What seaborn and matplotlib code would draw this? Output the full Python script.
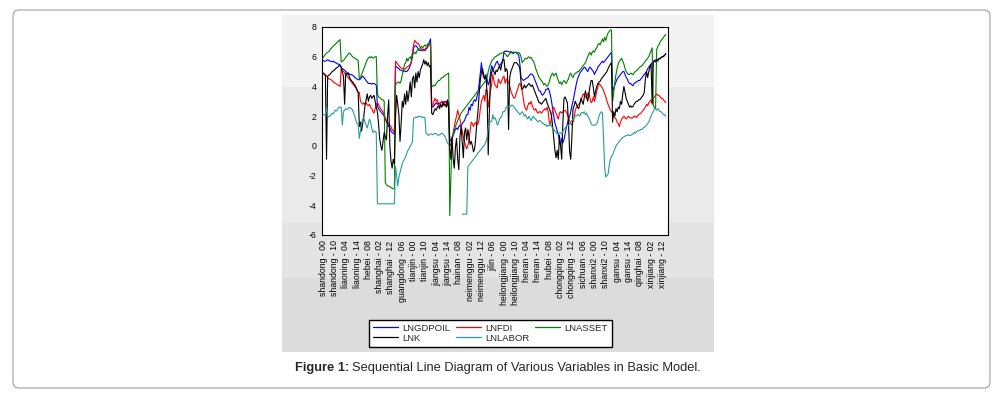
import numpy as np
import pandas as pd
import matplotlib
matplotlib.use('Agg')
import matplotlib.pyplot as plt
import seaborn as sns
from matplotlib.patches import Rectangle, FancyBboxPatch
from matplotlib.lines import Line2D
from matplotlib.transforms import IdentityTransform

nan = np.nan

# paneles: 19 provincias x 16 años (2000-2015)
provinces = ['shandong', 'liaoning', 'hebei', 'shanghai', 'guangdong', 'tianjin', 'jiangsu',
             'hainan', 'neimenggu', 'jilin', 'heilongjiang', 'henan', 'hubei', 'chongqing',
             'sichuan', 'shanxi2', 'gansu', 'qinghai', 'xinjiang']
years = ['00', '01', '02', '03', '04', '05', '06', '07', '08', '09', '10', '11', '12', '13', '14', '15']

lngdpoil = [
    5.75, 5.7, 5.7, 5.75, 5.8, 5.75, 5.7, 5.7, 5.65, 5.7, 5.65, 5.6, 5.55, 5.5, 5.5, 5.45,
    5.3, 5.2, 5.15, 5.1, 5.0, 4.95, 4.9, 4.85, 4.8, 4.8, 4.75, 4.7, 4.6, 4.55, 4.5, 4.45,
    4.45, 4.5, 4.6, 4.7, 4.6, 4.5, 4.4, 4.3, 4.2, 4.2, 4.2, 4.15, 4.2, 4.2, 4.15, 4.1,
    2.7, 2.5, 2.4, 2.3, 2.2, 2.1, 2.0, 1.8, 1.6, 1.5, 1.3, 1.2, 1.0, 0.9, 0.85, 0.8,
    5.4, 5.3, 5.25, 5.2, 5.1, 5.1, 5.05, 5.0, 5.05, 5.0, 5.0, 5.1, 5.2, 5.4, 5.6, 6.0,
    6.6, 6.7, 6.75, 6.65, 6.55, 6.45, 6.4, 6.45, 6.5, 6.5, 6.4, 6.5, 6.6, 6.8, 7.0, 7.2,
    2.7, 2.6, 2.7, 2.8, 2.9, 2.8, 2.9, 2.85, 2.9, 3.0, 2.9, 3.0, 2.95, 3.0, 2.9, 2.95,
    0.3, 0.4, 0.5, 0.7, 0.9, 1.1, 1.2, 1.1, 1.3, 1.4, 1.3, 1.5, 1.6, 1.7, 1.9, 2.1,
    2.1, 2.6, 2.4, 2.8, 2.7, 3.0, 3.1, 3.0, 3.3, 3.6, 4.2, 4.9, 5.6, 4.9, 4.6, 4.5,
    4.6, 4.5, 4.1, 4.3, 4.9, 5.4, 5.2, 5.25, 5.4, 5.6, 5.7, 5.5, 5.4, 5.5, 5.6, 5.8,
    6.35, 6.35, 6.4, 6.35, 6.35, 6.3, 6.35, 6.3, 6.3, 6.3, 6.3, 6.25, 6.2, 6.1, 5.5, 4.6,
    4.5, 4.4, 4.45, 4.5, 4.55, 4.6, 4.7, 4.8, 4.85, 4.8, 4.7, 4.5, 4.3, 4.1, 3.9, 3.7,
    3.7, 3.5, 3.4, 3.5, 3.6, 3.8, 3.8, 3.9, 3.7, 3.4, 3.0, 2.5, 2.0, 1.5, 1.3, 1.0,
    0.8, 0.3, 0.0, 0.5, 0.2, 0.4, 0.8, 1.2, 1.5, 1.8, 2.0, 2.3, 2.7, 3.0, 3.4, 3.8,
    4.2, 4.5, 4.7, 4.9, 5.0, 5.1, 5.2, 5.3, 5.25, 5.1, 5.0, 5.2, 5.3, 5.2, 5.1, 5.0,
    4.8, 5.0, 5.1, 5.3, 5.4, 5.5, 5.6, 5.7, 5.6, 5.7, 5.8, 5.9, 6.0, 6.1, 6.2, 6.3,
    3.6, 3.9, 4.1, 4.3, 4.5, 4.6, 4.7, 4.8, 4.9, 5.0, 5.0, 4.8, 4.6, 4.5, 4.3, 4.2,
    4.2, 4.1, 4.05, 4.2, 4.25, 4.3, 4.35, 4.4, 4.4, 4.5, 4.6, 4.7, 4.8, 4.9, 5.0, 5.2,
    5.3, 5.4, 5.5, 5.6, 5.7, 5.75, 5.8, 5.75, 5.8, 5.85, 5.9, 5.95, 6.0, 6.05, 6.1, 6.2,
]

lnfdi = [
    4.9, 4.85, 4.8, 4.7, 4.6, 4.5, 4.5, 4.45, 4.4, 4.3, 4.25, 4.2, 4.15, 4.1, 4.05, 4.0,
    5.25, 5.1, 5.0, 4.9, 4.8, 4.7, 4.6, 4.5, 4.4, 4.3, 4.2, 4.1, 4.0, 3.9, 3.7, 3.6,
    3.6, 3.0, 2.9, 2.8, 2.9, 2.8, 2.9, 2.75, 2.7, 2.8, 2.6, 2.5, 2.3, 2.2, 2.5, 2.8,
    2.9, 2.8, 2.6, 2.5, 2.4, 2.3, 2.1, 1.9, 1.7, 1.6, 1.5, 1.4, 1.3, 1.1, 1.0, 0.95,
    5.7, 5.6, 5.5, 5.4, 5.3, 5.25, 5.2, 5.2, 5.15, 5.2, 5.3, 5.35, 5.4, 5.5, 5.7, 6.3,
    6.8, 7.1, 7.0, 6.9, 6.9, 6.8, 6.6, 6.5, 6.4, 6.4, 6.5, 6.6, 6.6, 6.7, 6.8, 6.9,
    2.6, 2.7, 3.0, 3.2, 3.0, 3.1, 2.8, 2.7, 2.9, 3.0, 2.8, 2.7, 3.0, 2.9, 2.7, 2.8,
    0.1, 0.0, 0.4, 0.9, 1.3, 1.7, 2.0, 2.4, 2.1, 1.8, 1.4, 1.0, 0.6, 0.3, 0.0, -0.2,
    0.0, 0.5, 1.0, 1.6, 1.5, 1.3, 1.5, 1.6, 1.4, 1.5, 1.8, 2.5, 3.0, 3.2, 3.4, 3.0,
    3.8, 3.7, 2.6, 3.1, 3.7, 4.1, 4.8, 4.4, 4.1, 4.0, 3.9, 4.5, 4.3, 4.2, 4.4, 4.6,
    4.7, 4.2, 4.5, 4.4, 4.3, 4.0, 3.7, 3.5, 3.3, 3.2, 3.3, 3.6, 3.8, 4.1, 4.2, 4.0,
    3.7, 3.2, 2.7, 2.5, 2.4, 2.7, 2.9, 2.8, 3.0, 2.7, 2.5, 2.4, 2.5, 2.3, 2.2, 2.3,
    2.3, 2.2, 2.3, 2.4, 2.5, 2.4, 2.6, 2.3, 1.6, 1.4, 2.0, 2.5, 2.6, 2.4, 2.2, 2.0,
    1.8, 2.2, 2.3, 2.2, 2.3, 2.35, 2.4, 2.3, 2.1, 1.9, 1.7, 1.5, 1.4, 1.6, 1.9, 2.4,
    2.6, 2.7, 2.8, 2.9, 3.0, 3.3, 3.5, 3.4, 3.3, 3.2, 3.5, 3.6, 3.2, 2.9, 3.0, 3.3,
    3.0, 3.3, 3.7, 4.0, 4.2, 4.1, 4.0, 3.9, 3.7, 3.5, 3.3, 3.0, 2.8, 2.6, 2.4, 2.3,
    2.2, 2.0, 1.9, 1.8, 1.6, 1.5, 1.3, 1.6, 1.8, 1.9, 2.0, 1.9, 1.8, 1.9, 2.0, 1.9,
    1.9, 1.85, 1.9, 2.0, 2.0, 1.9, 2.0, 2.1, 2.15, 2.2, 2.3, 2.4, 2.5, 2.6, 2.8, 2.7,
    2.9, 3.0, 3.1, 2.8, 3.2, 3.3, 3.4, 3.5, 3.4, 3.4, 3.3, 3.2, 3.2, 3.1, 3.0, 2.9,
]

lnasset = [
    5.95, 6.05, 6.15, 6.25, 6.3, 6.35, 6.45, 6.55, 6.65, 6.7, 6.8, 6.85, 6.95, 7.0, 7.1, 7.15,
    5.65, 5.7, 5.75, 5.85, 5.95, 6.05, 6.15, 6.25, 6.2, 6.1, 6.0, 5.95, 5.9, 5.85, 5.8, 5.75,
    4.5, 4.6, 4.8, 5.0, 5.2, 5.4, 5.6, 5.8, 5.9, 6.0, 5.95, 6.0, 5.9, 5.95, 6.0, 6.0,
    3.5, 3.3, 3.25, 3.2, 3.1, 3.1, 3.0, -2.5, -2.6, -2.7, -2.7, -2.75, -2.8, -2.85, -2.9, -2.9,
    4.1, 4.2, 4.3, 4.3, 4.2, 4.4, 4.8, 5.1, 5.5, 5.6, 5.9, 5.7, 5.9, 6.0, 5.8, 6.2,
    6.2, 6.3, 6.2, 6.4, 6.5, 6.4, 6.6, 6.7, 6.6, 6.7, 6.8, 6.7, 6.8, 6.9, 6.85, 6.9,
    4.0, 4.0, 4.1, 4.05, 4.2, 4.3, 4.4, 4.4, 4.5, 4.6, 4.6, 4.7, 4.75, 4.8, 4.85, 4.9,
    -4.7, -2.1, 0.5, 0.8, 1.1, 1.3, 1.5, 1.7, 1.9, 2.0, 2.2, 2.3, 2.4, 2.5, 2.6, 2.7,
    2.8, 2.9, 3.0, 3.1, 3.2, 3.3, 3.4, 3.5, 3.6, 3.7, 3.8, 3.9, 4.0, 4.1, 4.2, 4.3,
    4.4, 4.6, 5.0, 5.3, 5.5, 5.7, 5.8, 5.9, 6.0, 6.0, 6.1, 6.1, 6.2, 6.2, 6.25, 6.25,
    6.25, 6.2, 6.1, 6.0, 6.1, 6.2, 6.3, 6.25, 6.2, 6.25, 6.3, 6.3, 6.25, 6.3, 6.2, 6.0,
    5.6, 5.7, 5.8, 5.9, 5.85, 5.95, 6.0, 5.9, 5.95, 5.8, 5.7, 5.5, 5.2, 5.0, 4.8, 4.6,
    4.5, 4.4, 4.3, 4.1, 4.2, 4.1, 4.0, 4.1, 4.3, 4.6, 4.8, 4.9, 4.7, 4.8, 4.9, 4.6,
    4.4, 4.2, 4.3, 4.1, 4.3, 4.4, 4.3, 4.2, 4.4, 4.5, 4.8, 4.9, 4.7, 4.6, 4.8, 4.9,
    4.9, 5.0, 5.0, 5.1, 5.2, 5.3, 5.4, 5.5, 5.6, 5.8, 6.0, 6.2, 6.3, 6.1, 6.3, 6.4,
    6.3, 6.5, 6.6, 6.8, 6.9, 6.8, 7.0, 7.2, 7.0, 7.3, 7.1, 7.4, 7.6, 7.7, 7.8, 7.8,
    3.0, 3.6, 4.3, 4.8, 5.2, 5.5, 5.7, 5.8, 5.9, 5.7, 5.5, 5.2, 5.0, 4.9, 4.8, 4.8,
    4.9, 4.85, 4.8, 4.9, 5.0, 5.05, 5.1, 5.2, 5.3, 5.35, 5.4, 5.5, 5.6, 5.7, 5.8, 5.9,
    6.0, 6.2, 6.4, 6.6, 2.7, 2.6, 2.5, 6.5, 6.7, 6.8, 7.0, 7.1, 7.2, 7.3, 7.4, 7.5,
]

lnk = [
    4.9, 4.8, 4.75, -0.9, 4.7, 4.75, 4.8, 4.9, 5.0, 5.05, 5.1, 5.2, 5.25, 5.3, 5.4, 5.4,
    5.3, 4.9, 4.7, 2.8, 4.9, 4.8, 4.9, 4.7, 4.5, 4.4, 4.3, 4.2, 4.1, 3.95, 3.8, 3.6,
    1.3, 1.6, 1.0, 1.5, 2.0, 2.7, 3.1, 3.5, 3.0, 3.3, 3.4, 3.2, 3.3, 3.4, 3.0, 2.6,
    2.3, 1.5, 0.5, 0.0, -0.3, 0.3, 0.9, 0.6, 0.4, 2.0, 3.1, 0.0, -1.0, -1.5, -0.9, -1.2,
    1.9, 3.4, 2.8, 2.1, 0.3, 1.5, 3.0, 2.6, 3.5, 2.8, 3.7, 3.0, 3.6, 4.3, 3.3, 4.5,
    4.7, 3.9, 4.9, 4.3, 5.0, 4.6, 5.1, 5.3, 5.5, 5.8, 5.5, 5.7, 5.4, 5.6, 5.3, 5.4,
    2.2, 2.1, 2.3, 2.5, 2.4, 2.6, 2.7, 2.5, 2.8, 2.6, 2.9, 2.7, 2.8, 2.6, 3.1, 2.5,
    -0.2, -0.9, 0.6, -0.9, -1.5, -0.1, 0.5, -0.9, -1.6, 0.6, 1.3, 0.2, -0.8, 0.9, 1.2, 0.4,
    1.1, 0.6, 0.1, 0.3, 0.0, -0.4, -0.2, 0.6, 1.6, 2.4, 3.5, 4.4, 5.0, 5.2, 4.8, 4.5,
    4.8, 3.5, -0.6, 2.3, 4.5, 4.9, 5.2, 5.0, 4.8, 5.1, 5.0, 5.2, 5.4, 5.1, 5.5, 5.8,
    5.8, 5.0, 5.2, 5.0, 1.1, 4.6, 5.0, 5.2, 5.4, 5.6, 5.6, 5.6, 5.5, 5.4, 5.2, 4.3,
    3.8, 3.9, 4.1, 3.9, 4.0, 4.1, 4.2, 4.1, 4.0, 4.1, 3.9, 3.7, 3.5, 3.3, 3.1, 2.9,
    2.9, 2.8, 2.9, 3.0, 3.1, 3.2, 2.9, 2.7, 2.5, 2.3, 2.0, 1.3, 0.5, -0.3, -0.8, -0.3,
    -0.9, 0.7, 0.0, -0.9, 1.5, 3.2, 3.3, 3.1, 2.9, 1.5, -0.4, -0.9, 0.6, 2.5, 2.7, 3.0,
    2.8, 2.6, 2.5, 2.8, 3.2, 3.0, 2.8, 3.3, 3.7, 3.3, 3.0, 3.5, 4.0, 4.4, 4.4, 3.9,
    3.3, 3.7, 4.0, 4.2, 4.3, 4.35, 4.5, 4.6, 4.7, 4.8, 4.9, 5.0, 5.2, 5.35, 5.5, 5.6,
    1.6, 2.3, 2.0, 2.5, 2.3, 2.6, 2.5, 3.0, 2.8, 3.5, 4.0, 3.6, 3.2, 3.0, 2.8, 2.6,
    2.7, 2.6, 2.65, 2.8, 2.9, 3.0, 3.0, 3.1, 3.1, 3.2, 3.3, 3.4, 3.6, 4.5, 5.0, 4.6,
    5.0, 5.3, 5.5, 2.9, 5.6, 5.7, 5.65, 5.8, 5.7, 5.9, 5.85, 5.95, 6.0, 6.0, 6.1, 6.2,
]

lnlabor = [
    2.1, 2.1, 2.05, 2.6, 2.0, 1.95, 2.0, 2.1, 2.2, 2.15, 2.3, 2.4, 2.35, 2.5, 2.6, 2.6,
    2.6, 1.4, 2.3, 2.4, 2.5, 2.45, 2.5, 2.6, 2.55, 2.5, 2.4, 2.2, 2.0, 1.7, 1.5, 1.4,
    0.5, 1.0, 1.5, 1.8, 1.9, 1.6, 1.4, 1.2, 1.5, 1.8, 1.6, 1.2, 0.9, 1.0, 0.95, 0.9,
    -3.9, -3.9, -3.9, -3.9, -3.9, -3.9, -3.9, -3.9, -3.9, -3.9, -3.9, -3.9, -3.9, -3.9, -3.9, -3.9,
    -1.4, -2.0, -2.7, -2.1, -1.8, -1.5, -1.2, -1.0, -0.9, -0.7, -0.5, -0.3, -0.2, 0.0, 0.1, 0.3,
    1.85, 1.9, 1.95, 1.9, 2.0, 1.95, 2.0, 1.95, 1.9, 1.95, 1.9, 0.85, 0.8, 0.7, 0.75, 0.8,
    0.8, 0.75, 0.8, 0.85, 0.8, 0.75, 0.7, 0.75, 0.8, 0.85, 0.8, 0.7, 0.6, 0.4, 0.2, 0.1,
    nan, nan, nan, nan, nan, nan, nan, nan, nan, nan, nan, -4.6, -4.6, -4.6, -4.6, -4.6,
    -1.4, -1.3, -1.2, -1.1, -1.0, -0.9, -0.8, -0.7, -0.6, -0.45, -0.4, -0.3, -0.2, -0.1, 0.0, 0.1,
    0.3, 0.6, 1.2, 1.6, 1.6, 1.65, 2.1, 1.8, 1.9, 1.7, 1.4, 1.5, 1.8, 1.9, 2.0, 2.3,
    2.3, 2.4, 2.6, 2.7, 2.65, 2.6, 2.7, 2.75, 2.7, 2.6, 2.5, 2.4, 2.3, 2.2, 2.1, 2.2,
    2.3, 2.2, 2.0, 2.1, 1.9, 1.8, 2.0, 1.85, 1.7, 1.9, 2.0, 1.85, 1.8, 1.7, 1.6, 1.7,
    1.7, 1.6, 1.5, 1.5, 1.4, 1.45, 1.3, 1.4, 1.35, 1.5, 1.3, 1.2, 1.1, 1.0, 0.9, 0.8,
    0.8, 0.85, 0.9, 0.8, 0.95, 1.1, 1.2, 1.3, 1.4, 1.35, 1.5, 1.6, 1.7, 1.8, 1.9, 2.0,
    2.0, 2.1, 2.1, 2.0, 2.2, 2.25, 2.2, 2.3, 2.1, 2.2, 2.0, 1.9, 1.7, 1.5, 1.4, 1.4,
    1.4, 1.4, 1.5, 1.7, 2.0, 2.2, 2.3, 2.2, 0.5, -1.5, -2.1, -2.0, -1.9, -1.3, -0.9, -0.7,
    -0.6, -0.4, -0.2, 0.0, 0.1, 0.2, 0.3, 0.4, 0.5, 0.55, 0.6, 0.65, 0.7, 0.7, 0.75, 0.7,
    0.7, 0.75, 0.8, 0.9, 0.85, 0.95, 1.0, 1.0, 1.05, 1.1, 1.1, 1.2, 1.25, 1.3, 1.4, 1.5,
    1.6, 1.8, 2.0, 2.2, 2.3, 2.5, 2.5, 2.4, 2.5, 2.4, 2.3, 2.3, 2.2, 2.1, 2.1, 2.0,
]

series_names = ['LNGDPOIL', 'LNFDI', 'LNASSET', 'LNK', 'LNLABOR']
series_vals = [lngdpoil, lnfdi, lnasset, lnk, lnlabor]
colores = ['#0000ff', '#ff0000', '#008000', '#000000', '#2b9b9b']

sns.set_style('white')
plt.rcParams['font.family'] = ['Liberation Sans', 'DejaVu Sans']
plt.rcParams['axes.unicode_minus'] = False

W, H = 1003, 396
fig = plt.figure(figsize=(W / 100, H / 100), dpi=100)
fig.patch.set_facecolor('white')

# marco redondeado exterior
marco = FancyBboxPatch((13, 8), 977, 378, boxstyle='round,pad=0,rounding_size=6',
                       transform=IdentityTransform(), fc='white', ec='#a0a0a0', lw=0.8, zorder=-20)
fig.add_artist(marco)

# panel gris de fondo (bandas)
bandas = [(15, 87, '#f3f3f3'), (87, 222, '#eaeaea'), (222, 278, '#e4e4e4'), (278, 352, '#dcdcdc')]
for y0, y1, c in bandas:
    fig.add_artist(Rectangle((282 / W, 1 - y1 / H), 432 / W, (y1 - y0) / H,
                             transform=fig.transFigure, fc=c, ec='none', zorder=-10))

ax = fig.add_axes([322 / W, 1 - 235 / H, 346 / W, 208 / H])
ax.set_facecolor('white')

obs = np.arange(len(lngdpoil))
for nombre, vals, c in zip(series_names, series_vals, colores):
    d = pd.DataFrame({'obs': obs, 'valor': vals})
    d['seg'] = d['valor'].isna().cumsum()
    d = d.dropna()
    sns.lineplot(data=d, x='obs', y='valor', units='seg', estimator=None,
                 color=c, lw=0.8, ax=ax, legend=False)

ax.set_xlim(-1, 305)
ax.set_ylim(-6, 8)
ax.set_yticks(range(-6, 9, 2))
pos = list(range(0, len(obs), 10))
etiquetas = [f'{provinces[i // 16]} - {years[i % 16]}' for i in pos]
ax.set_xticks(pos)
ax.set_xticklabels(etiquetas, rotation=90)
ax.set_xticks(range(5, len(obs), 10), minor=True)
ax.set_xlabel('')
ax.set_ylabel('')
ax.tick_params(axis='both', which='both', direction='out', length=2.4, width=0.6,
               labelsize=6.3, pad=1.5, colors='black')
for s in ax.spines.values():
    s.set_color('black')
    s.set_linewidth(0.8)

# leyenda
handles = [Line2D([], [], color=c, lw=0.9) for c in colores]
orden = [0, 3, 1, 4, 2]
fig.legend([handles[i] for i in orden], [series_names[i] for i in orden],
           loc='upper left', bbox_to_anchor=(369 / W, 1 - 320 / H), ncol=3,
           fontsize=6.8, frameon=True, fancybox=False, edgecolor='black',
           framealpha=1, borderpad=0.4, handlelength=2.7, handletextpad=0.45,
           columnspacing=0.55, labelspacing=0.1, borderaxespad=0)

# pie de figura
yc = 1 - 368 / H
t1 = fig.text(0, yc, 'Figure 1:', fontsize=9.3, fontweight='bold', va='center', ha='left')
t2 = fig.text(0, yc, 'Sequential Line Diagram of Various Variables in Basic Model.',
              fontsize=9.3, va='center', ha='left')
fig.canvas.draw()
r = fig.canvas.get_renderer()
w1 = t1.get_window_extent(r).width
w2 = t2.get_window_extent(r).width
gap = 3
x0 = 498 - (w1 + gap + w2) / 2
t1.set_x(x0 / W)
t2.set_x((x0 + w1 + gap) / W)

fig.savefig('out.png', dpi=100)
